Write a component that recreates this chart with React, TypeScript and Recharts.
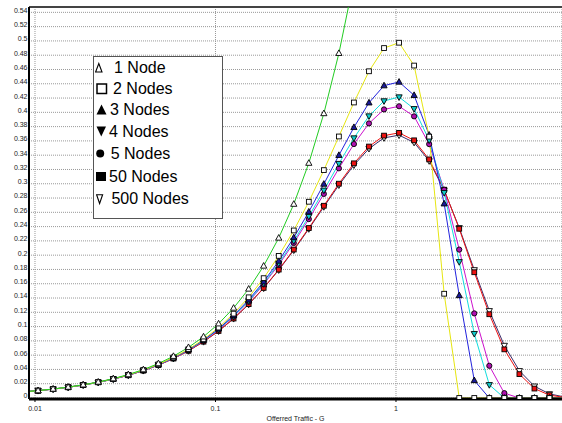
import React from "react";
import { LineChart, Line, XAxis, YAxis, CartesianGrid, ReferenceLine, Legend } from "recharts";

// offered traffic G, one point per 1/12 decade
const offeredTraffic = [
  0.00858, 0.0104, 0.0126, 0.01527, 0.01849, 0.02241, 0.02715, 0.03289, 0.03984, 0.04827,
  0.05848, 0.07085, 0.08584, 0.104, 0.126, 0.1527, 0.1849, 0.2241, 0.2715, 0.3289,
  0.3984, 0.4827, 0.5848, 0.7085, 0.8584, 1.04, 1.26, 1.527, 1.849, 2.241,
  2.715, 3.289, 3.984, 4.827, 5.848, 7.085, 8.584,
];

const node1 = [
  0.0086, 0.0104, 0.0126, 0.0153, 0.0185, 0.0224, 0.0271, 0.0329, 0.0398, 0.0483,
  0.0585, 0.0709, 0.0858, 0.104, 0.126, 0.1527, 0.1849, 0.2241, 0.2715, 0.3289,
  0.3984, 0.4827, 0.5848, 0.7085, null, null, null, null, null, null,
  null, null, null, null, null, null, null,
];
const nodes2 = [
  0.0085, 0.0103, 0.0125, 0.0151, 0.0183, 0.0222, 0.0268, 0.0323, 0.0391, 0.0471,
  0.0568, 0.0683, 0.0822, 0.0986, 0.1181, 0.141, 0.1678, 0.199, 0.2346, 0.2748,
  0.3191, 0.3662, 0.4138, 0.4575, 0.49, 0.4975, 0.4655, 0.366, 0.146, 0,
  0, 0, 0, 0, 0, 0, 0,
];
const nodes3 = [
  0.0085, 0.0103, 0.0125, 0.0151, 0.0183, 0.0221, 0.0267, 0.0322, 0.0388, 0.0467,
  0.0562, 0.0675, 0.081, 0.0969, 0.1156, 0.1375, 0.1628, 0.1918, 0.2246, 0.2607,
  0.2996, 0.3399, 0.379, 0.4134, 0.4374, 0.4425, 0.4239, 0.3683, 0.272, 0.1436,
  0.0246, 0, 0, 0, 0, 0, 0,
];
const nodes4 = [
  0.0085, 0.0103, 0.0125, 0.0151, 0.0182, 0.022, 0.0266, 0.0321, 0.0387, 0.0465,
  0.056, 0.0672, 0.0804, 0.0961, 0.1145, 0.1358, 0.1605, 0.1885, 0.2199, 0.2542,
  0.2908, 0.3282, 0.364, 0.3948, 0.4159, 0.4214, 0.405, 0.361, 0.2874, 0.1907,
  0.0901, 0.0185, 0, 0, 0, 0, 0,
];
const nodes5 = [
  0.0085, 0.0103, 0.0125, 0.0151, 0.0182, 0.022, 0.0266, 0.032, 0.0386, 0.0464,
  0.0558, 0.0669, 0.0801, 0.0956, 0.1138, 0.1348, 0.1591, 0.1865, 0.2171, 0.2505,
  0.2858, 0.3216, 0.3556, 0.3845, 0.4041, 0.4085, 0.3944, 0.3555, 0.2916, 0.2078,
  0.1185, 0.0451, 0.0068, 0, 0, 0, 0,
];
const nodes50 = [
  0.0085, 0.0103, 0.0124, 0.015, 0.0182, 0.0219, 0.0264, 0.0318, 0.0383, 0.046,
  0.0552, 0.0661, 0.0789, 0.0939, 0.1113, 0.1314, 0.1542, 0.1798, 0.2079, 0.238,
  0.2692, 0.3001, 0.3286, 0.3521, 0.3674, 0.3713, 0.3608, 0.3341, 0.2917, 0.237,
  0.1761, 0.1173, 0.0681, 0.0334, 0.0132, 0.004, 0.0008,
];
const nodes500 = [
  0.0085, 0.0103, 0.0124, 0.015, 0.0182, 0.0219, 0.0264, 0.0318, 0.0383, 0.046,
  0.0552, 0.066, 0.0788, 0.0937, 0.1111, 0.1311, 0.1538, 0.1792, 0.207, 0.2368,
  0.2677, 0.2981, 0.3261, 0.3492, 0.3642, 0.368, 0.3578, 0.332, 0.291, 0.2383,
  0.1794, 0.1221, 0.0735, 0.0381, 0.0165, 0.0057, 0.0015,
];

const yTicks = [
  0, 0.02, 0.04, 0.06, 0.08, 0.1, 0.12, 0.14, 0.16, 0.18, 0.2, 0.22, 0.24, 0.26,
  0.28, 0.3, 0.32, 0.34, 0.36, 0.38, 0.4, 0.42, 0.44, 0.46, 0.48, 0.5, 0.52, 0.54,
];
const xTicks = [0.01, 0.1, 1];

const Y_MIN = -0.0014;
const Y_MAX = 0.5475;
const minorYTicks = Array.from({ length: 110 }, (_, i) => i * 0.005);

const data = offeredTraffic.map((g, i) => ({
  g,
  n1: node1[i],
  n2: nodes2[i],
  n3: nodes3[i],
  n4: nodes4[i],
  n5: nodes5[i],
  n50: nodes50[i],
  n500: nodes500[i],
}));

type Shape = "triUp" | "triDown" | "square" | "circle";

// drawn back to front: 500 nodes first, 1 node last
const series: { key: string; name: string; color: string; shape: Shape; fill: string }[] = [
  { key: "n500", name: "500 Nodes", color: "#3a2b68", shape: "triDown", fill: "#ffffff" },
  { key: "n50", name: "50 Nodes", color: "#ee1111", shape: "square", fill: "#ee1111" },
  { key: "n5", name: "5 Nodes", color: "#cc11cc", shape: "circle", fill: "#b010b0" },
  { key: "n4", name: "4 Nodes", color: "#11dddd", shape: "triDown", fill: "#11cccc" },
  { key: "n3", name: "3 Nodes", color: "#2222dd", shape: "triUp", fill: "#1a1a99" },
  { key: "n2", name: "2 Nodes", color: "#e6e611", shape: "square", fill: "#ffffff" },
  { key: "n1", name: "1 Node", color: "#22cc22", shape: "triUp", fill: "#ffffff" },
];

const legendRows = [
  { label: "1 Node", glyph: "delta", center: 11.3, textX: 20 },
  { label: "2 Nodes", glyph: "box", center: 31.7, textX: 19 },
  { label: "3 Nodes", glyph: "up", center: 53, textX: 16 },
  { label: "4 Nodes", glyph: "down", center: 75, textX: 15 },
  { label: "5 Nodes", glyph: "dot", center: 97.3, textX: 16.7 },
  { label: "50 Nodes", glyph: "block", center: 119.7, textX: 15 },
  { label: "500 Nodes", glyph: "nabla", center: 141.7, textX: 17.4 },
];

const FONT = "'Liberation Sans', Arial, sans-serif";

const marker = (shape: Shape, fill: string, cx: number, cy: number) => {
  const common = { fill, stroke: "#000", strokeWidth: 0.9 };
  switch (shape) {
    case "triUp":
      return <polygon points={`${cx},${cy - 3.4} ${cx + 3.1},${cy + 2.2} ${cx - 3.1},${cy + 2.2}`} {...common} />;
    case "triDown":
      return <polygon points={`${cx},${cy + 3.4} ${cx + 3.1},${cy - 2.2} ${cx - 3.1},${cy - 2.2}`} {...common} />;
    case "square":
      return <rect x={cx - 2.4} y={cy - 2.4} width={4.8} height={4.8} {...common} />;
    default:
      return <circle cx={cx} cy={cy} r={2.6} {...common} />;
  }
};

const makeDot = (key: string, shape: Shape, fill: string) => (props: any) => {
  const { cx, cy, index, value } = props;
  if (cx == null || cy == null || value == null || cx < 27 || cx > 564) {
    return <g key={`${key}-${index}`} />;
  }
  return <g key={`${key}-${index}`}>{marker(shape, fill, cx, cy)}</g>;
};

const LegendGlyph = ({ glyph }: { glyph: string }) => {
  switch (glyph) {
    case "delta":
      return (
        <svg width={10} height={12} style={{ position: "absolute", left: 1, top: 5 }}>
          <polygon points="3.8,1.5 7,10 0.6,10" fill="none" stroke="#000" strokeWidth={1.1} />
        </svg>
      );
    case "box":
      return (
        <svg width={12} height={12} style={{ position: "absolute", left: 1.5, top: 5 }}>
          <rect x={1} y={1} width={9.5} height={9.5} fill="none" stroke="#000" strokeWidth={1.5} />
        </svg>
      );
    case "up":
      return (
        <svg width={12} height={12} style={{ position: "absolute", left: 1.5, top: 5 }}>
          <polygon points="5.5,0.5 10.5,10.5 0.5,10.5" fill="#000" />
        </svg>
      );
    case "down":
      return (
        <svg width={12} height={12} style={{ position: "absolute", left: 1.5, top: 5 }}>
          <polygon points="0.5,0.5 10,0.5 5.25,10.5" fill="#000" />
        </svg>
      );
    case "dot":
      return (
        <svg width={12} height={12} style={{ position: "absolute", left: 2, top: 6 }}>
          <circle cx={4.2} cy={4.5} r={4} fill="#000" />
        </svg>
      );
    case "block":
      return (
        <svg width={12} height={12} style={{ position: "absolute", left: 1.5, top: 6 }}>
          <rect x={0} y={0} width={10} height={9} fill="#000" />
        </svg>
      );
    default:
      return (
        <svg width={10} height={12} style={{ position: "absolute", left: 1.5, top: 6 }}>
          <polygon points="0.6,0.8 6.6,0.8 3.6,9.5" fill="none" stroke="#000" strokeWidth={1.1} />
        </svg>
      );
  }
};

const renderLegend = () => (
  <div
    style={{
      position: "relative",
      width: 130,
      height: 163,
      border: "1px solid #555",
      background: "#fff",
      boxSizing: "border-box",
      fontFamily: FONT,
      fontSize: 16,
      color: "#000",
    }}
  >
    {legendRows.map((row) => (
      <div key={row.label} style={{ position: "absolute", left: 0, top: row.center - 11, height: 22, width: 128 }}>
        <LegendGlyph glyph={row.glyph} />
        <span style={{ position: "absolute", left: row.textX, top: 2, lineHeight: "18px", whiteSpace: "pre" }}>
          {row.label}
        </span>
      </div>
    ))}
  </div>
);

const formatTick = (v: number) => String(Number(v.toFixed(2)));

const YTick = (props: any) => {
  const { x, y, payload } = props;
  return (
    <text x={x} y={y - 2} dy="0.35em" textAnchor="end" fontSize={7} fontFamily={FONT} fill="#222">
      {formatTick(payload.value)}
    </text>
  );
};

const XTick = (props: any) => {
  const { x, y, payload } = props;
  return (
    <text x={x} y={y} dy="0.71em" textAnchor="middle" fontSize={7} fontFamily={FONT} fill="#222">
      {formatTick(payload.value)}
    </text>
  );
};

export default function App() {
  return (
    <div style={{ position: "absolute", left: 0, top: 0, width: 562, height: 423, background: "#fff" }}>
      <LineChart width={562} height={423} data={data} margin={{ top: 7, right: 0, bottom: 0, left: 0 }}>
        <CartesianGrid stroke="#999" strokeDasharray="1 1" />
        <XAxis
          dataKey="g"
          type="number"
          scale="log"
          domain={[0.009264, 8.313]}
          allowDataOverflow
          ticks={xTicks}
          tick={<XTick />}
          tickSize={3}
          tickMargin={4}
          tickLine={{ stroke: "#000" }}
          axisLine={{ stroke: "#000", strokeWidth: 3 }}
          height={24}
          label={{
            value: "Offerred Traffic - G",
            position: "insideBottom",
            offset: 2,
            fontSize: 7,
            fontFamily: FONT,
            fill: "#222",
          }}
        />
        <YAxis
          yAxisId="minor"
          type="number"
          domain={[Y_MIN, Y_MAX]}
          allowDataOverflow
          ticks={minorYTicks}
          interval={0}
          width={0}
          tick={false}
          tickSize={3}
          tickLine={{ stroke: "#333", strokeWidth: 0.8 }}
          axisLine={false}
        />
        <YAxis
          type="number"
          domain={[Y_MIN, Y_MAX]}
          allowDataOverflow
          ticks={yTicks}
          interval={0}
          width={29}
          tick={<YTick />}
          tickLine={false}
          tickSize={0}
          tickMargin={1.5}
          axisLine={{ stroke: "#000", strokeWidth: 2 }}
        />
        <ReferenceLine y={Y_MAX} stroke="#444" strokeWidth={2} />
        {series.map((s) => (
          <Line
            key={s.key}
            dataKey={s.key}
            name={s.name}
            type="linear"
            stroke={s.color}
            strokeWidth={1}
            dot={makeDot(s.key, s.shape, s.fill)}
            activeDot={false}
            isAnimationActive={false}
            connectNulls={false}
          />
        ))}
        <Legend
          layout="vertical"
          align="center"
          verticalAlign="middle"
          content={renderLegend}
          wrapperStyle={{ left: 93, top: 56, width: 130, height: 163 }}
        />
      </LineChart>
    </div>
  );
}
